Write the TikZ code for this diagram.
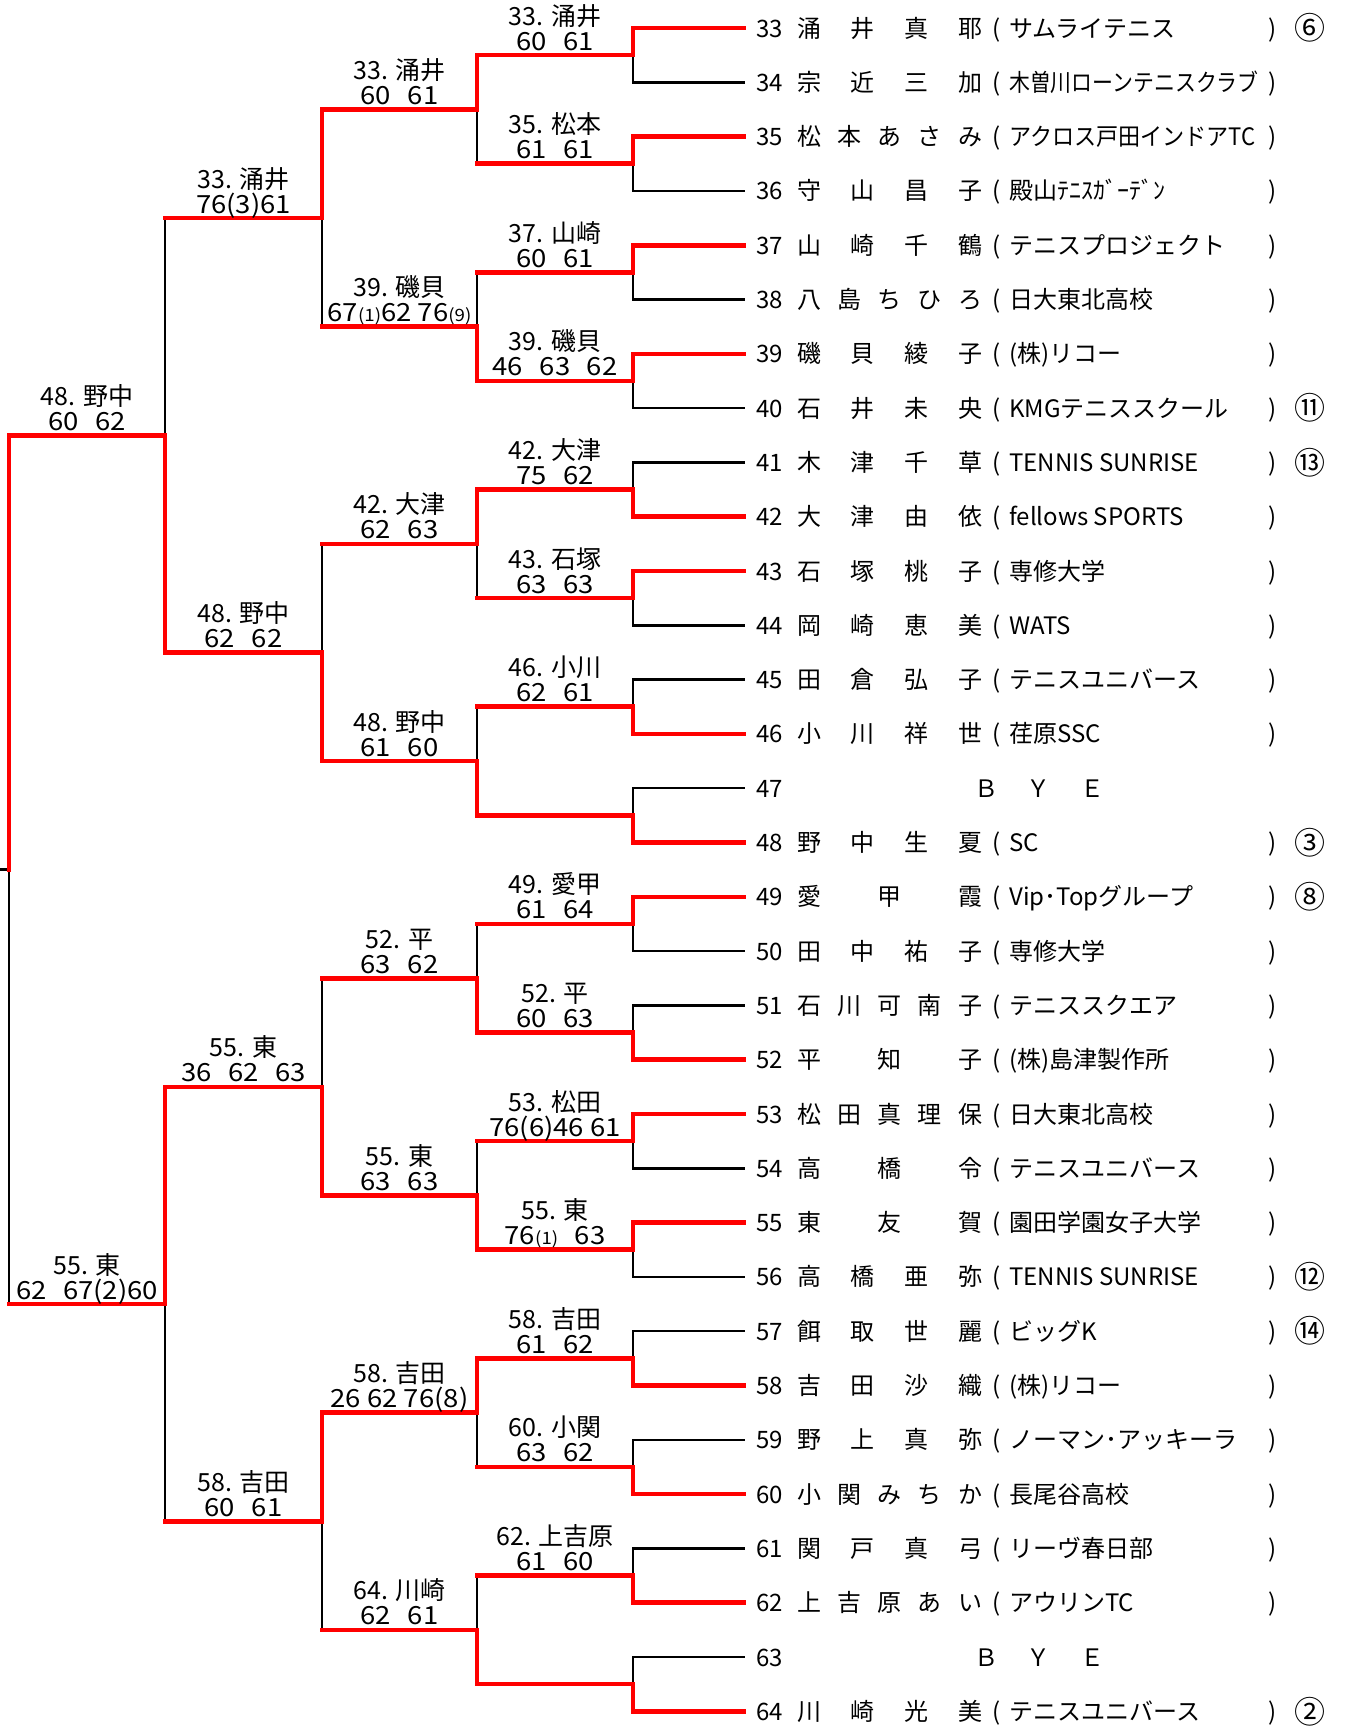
\documentclass[tikz,border=0pt]{standalone}
\usepackage{fontspec}
\usepackage{tikz}
\usetikzlibrary{positioning}
\newfontfamily\jpfont{Noto Sans CJK JP}
\definecolor{winclr}{HTML}{FF0000}
\definecolor{inkclr}{HTML}{000000}
\newcommand{\gap}{\hspace{0.6em}}
\newcommand{\tbk}[1]{{\fontsize{17}{20}\selectfont #1}}

\begin{document}
\begin{tikzpicture}[x=1pt, y=-1pt,
  lossline/.style={inkclr, line width=2.5pt, line cap=rect},
  winline/.style={winclr, line width=4.6pt, line cap=rect, line join=miter},
  entry/.style={inner sep=0pt, anchor=base, inkclr, font=\jpfont\fontsize{24}{28}\selectfont},
  seedmark/.style={inner sep=0pt, anchor=center, inkclr, font=\jpfont\fontsize{31}{34}\selectfont},
  winner/.style={inner sep=0pt, anchor=base, inkclr, font=\jpfont\fontsize{25}{30}\selectfont},
  score/.style={inner sep=0pt, anchor=base, inkclr, font=\jpfont\fontsize{25}{30}\selectfont}]

\useasboundingbox (0,0) rectangle (1366,1727);

% --- anchor points: player stubs and every match junction ----------------
\foreach \i in {0,...,31} {
  \pgfmathsetmacro\yy{28+54.3*\i}
  \coordinate (p\i) at (744,\yy);
  \coordinate (j\i) at (633,\yy);
}
\foreach \r/\xa/\xb in {1/633/477, 2/477/322, 3/322/165, 4/165/9} {
  \pgfmathtruncatemacro\nm{32/2^\r-1}
  \foreach \m in {0,...,\nm} {
    \pgfmathsetmacro\yy{28+54.3*(\m*2^\r+(2^\r-1)/2)}
    \coordinate (v\r-\m) at (\xa,\yy);
    \coordinate (o\r-\m) at (\xb,\yy);
    \coordinate (c\r-\m) at ({(\xa+\xb)/2},\yy);
  }
}
\coordinate (v5-0) at (9,869.65);
\coordinate (fin) at (0,869.65);

% --- the plain draw, all in black -----------------------------------------
\foreach \i in {0,...,31} \draw[lossline] (p\i) -- (j\i);
\foreach \m in {0,...,15} {
  \pgfmathtruncatemacro\up{2*\m}
  \pgfmathtruncatemacro\dn{2*\m+1}
  \draw[lossline] (j\up) -- (j\dn) (v1-\m) -- (o1-\m);
}
\foreach \r/\q/\nm in {2/1/7, 3/2/3, 4/3/1} {
  \foreach \m in {0,...,\nm} {
    \pgfmathtruncatemacro\up{2*\m}
    \pgfmathtruncatemacro\dn{2*\m+1}
    \draw[lossline] (o\q-\up) -- (o\q-\dn) (v\r-\m) -- (o\r-\m);
  }
}
\draw[lossline] (o4-0) -- (o4-1) (v5-0) -- (fin);

% --- who won how far: red runs (player index / matches won) --------------
\foreach \i/\w in {0/3, 2/1, 4/1, 6/2, 9/2, 10/1, 13/1, 15/4,
                   16/1, 19/2, 20/1, 22/4, 25/3, 27/1, 29/1, 31/2}
  \draw[winline] (p\i) -- (j\i)
    \foreach \r [evaluate=\r as \m using {int(floor(\i/2^\r))}] in {1,...,\w}
      { -- (v\r-\m) -- (o\r-\m) };
\draw[winline] (o4-0) -- (v5-0);

% --- match results above each line ----------------------------------------
\foreach \r/\m/\who/\sets in {
    1/0/33. 涌井/60\gap 61, 1/1/35. 松本/61\gap 61, 1/2/37. 山崎/60\gap 61,
    1/3/39. 磯貝/46\gap 63\gap 62, 1/4/42. 大津/75\gap 62, 1/5/43. 石塚/63\gap 63,
    1/6/46. 小川/62\gap 61, 1/8/49. 愛甲/61\gap 64, 1/9/52. 平/60\gap 63,
    1/10/53. 松田/76(6)46 61, 1/11/55. 東/76\tbk{(1)}\gap 63,
    1/12/58. 吉田/61\gap 62, 1/13/60. 小関/63\gap 62, 1/14/62. 上吉原/61\gap 60,
    2/0/33. 涌井/60\gap 61, 2/1/39. 磯貝/67\tbk{(1)}62 76\tbk{(9)},
    2/2/42. 大津/62\gap 63, 2/3/48. 野中/61\gap 60, 2/4/52. 平/63\gap 62,
    2/5/55. 東/63\gap 63, 2/6/58. 吉田/26 62 76(8), 2/7/64. 川崎/62\gap 61,
    3/0/33. 涌井/76(3)61, 3/1/48. 野中/62\gap 62,
    3/2/55. 東/36\gap 62\gap 63, 3/3/58. 吉田/60\gap 61,
    4/0/48. 野中/60\gap 62, 4/1/55. 東/62\gap 67(2)60} {
  \node[winner] (t\r-\m) at ([yshift=30pt]c\r-\m) {\who};
  \node[score] (s\r-\m) at ([yshift=5pt]c\r-\m) {\scalebox{1.1}[1]{\sets}};
}

% --- the draw list: number, name spread over a fixed width, club, seed ----
\foreach \i/\nc/\nms/\club/\seed in {
    0/4/{涌,井,真,耶}/サムライテニス/⑥,
    1/4/{宗,近,三,加}/\scalebox{0.87}[1]{木曽川ローンテニスクラブ}/{},
    2/5/{松,本,あ,さ,み}/\scalebox{0.92}[1]{アクロス戸田インドアTC}/{},
    3/4/{守,山,昌,子}/殿山ﾃﾆｽｶﾞｰﾃﾞﾝ/{},
    4/4/{山,崎,千,鶴}/テニスプロジェクト/{},
    5/5/{八,島,ち,ひ,ろ}/日大東北高校/{},
    6/4/{磯,貝,綾,子}/(株)リコー/{},
    7/4/{石,井,未,央}/KMGテニススクール/⑪,
    8/4/{木,津,千,草}/TENNIS SUNRISE/⑬,
    9/4/{大,津,由,依}/fellows SPORTS/{},
    10/4/{石,塚,桃,子}/専修大学/{},
    11/4/{岡,崎,恵,美}/WATS/{},
    12/4/{田,倉,弘,子}/テニスユニバース/{},
    13/4/{小,川,祥,世}/荏原SSC/{},
    15/4/{野,中,生,夏}/SC/③,
    16/3/{愛,甲,霞}/Vip･Topグループ/⑧,
    17/4/{田,中,祐,子}/専修大学/{},
    18/5/{石,川,可,南,子}/テニススクエア/{},
    19/3/{平,知,子}/(株)島津製作所/{},
    20/5/{松,田,真,理,保}/日大東北高校/{},
    21/3/{高,橋,令}/テニスユニバース/{},
    22/3/{東,友,賀}/園田学園女子大学/{},
    23/4/{高,橋,亜,弥}/TENNIS SUNRISE/⑫,
    24/4/{餌,取,世,麗}/ビッグK/⑭,
    25/4/{吉,田,沙,織}/(株)リコー/{},
    26/4/{野,上,真,弥}/ノーマン･アッキーラ/{},
    27/5/{小,関,み,ち,か}/長尾谷高校/{},
    28/4/{関,戸,真,弓}/リーヴ春日部/{},
    29/5/{上,吉,原,あ,い}/アウリンTC/{},
    31/4/{川,崎,光,美}/テニスユニバース/②} {
  \pgfmathsetmacro\yy{28+54.3*\i+9}
  \pgfmathsetmacro\ym{28+54.3*\i}
  \pgfmathtruncatemacro\pn{33+\i}
  \node[entry, anchor=base west] (num\i) at (756,\yy) {\pn};
  \foreach \ch [count=\k from 0] in \nms {
    \pgfmathsetmacro\cx{809+\k*161/(\nc-1)}
    \node[entry] (ch\i-\k) at (\cx,\yy) {\ch};
  }
  \node[entry] (lp\i) at (997,\yy) {(};
  \node[entry, anchor=base west] (club\i) at (1009,\yy) {\club};
  \node[entry] (rp\i) at (1273,\yy) {)};
  \node[seedmark] (seed\i) at (1310,\ym) {\seed};
}

% --- the two byes ---------------------------------------------------------
\foreach \i in {14,30} {
  \pgfmathsetmacro\yy{28+54.3*\i+9}
  \pgfmathtruncatemacro\pn{33+\i}
  \node[entry, anchor=base west] (num\i) at (756,\yy) {\pn};
  \node[entry] (byeb\i) at (986,\yy) {Ｂ};
  \node[entry] (byey\i) at (1038,\yy) {Ｙ};
  \node[entry] (byee\i) at (1092,\yy) {Ｅ};
}

\end{tikzpicture}
\end{document}
